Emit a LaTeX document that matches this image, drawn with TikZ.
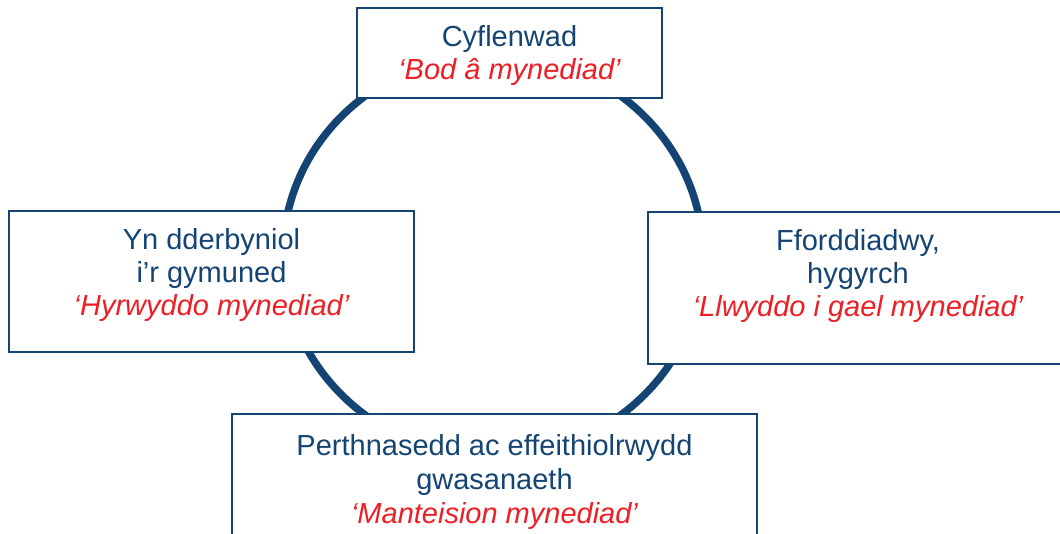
\documentclass[tikz,border=0pt]{standalone}
\usepackage{fontspec}
\setmainfont{Liberation Sans}
\definecolor{navy}{RGB}{20,68,115}
\definecolor{redtxt}{RGB}{237,30,36}
\tikzset{
  box/.style={draw=navy,line width=1.8pt,fill=white,rectangle,inner sep=0pt},
  bluetxt/.style={text=navy,anchor=base,inner sep=0pt,font=\fontsize{29}{33}\selectfont},
  redline/.style={text=redtxt,anchor=base,inner sep=0pt,font=\fontsize{29}{33}\selectfont\itshape},
  ring/.style={draw=navy,line width=7.5pt}
}
\begin{document}
\begin{tikzpicture}[x=1pt,y=-1pt]
\clip (0,0) rectangle (1060,533);
\fill[white] (0,0) rectangle (1060,533);
\draw[ring] (493,255.5) ellipse [x radius=210, y radius=201];
% boxes
\node[box,minimum width=305pt,minimum height=90pt] (top) at (509.5,53) {};
\node[box,minimum width=405pt,minimum height=141pt] (left) at (211.5,281.5) {};
\node[box,minimum width=420pt,minimum height=152pt] (right) at (858,288) {};
\node[box,minimum width=525pt,minimum height=146pt] (bottom) at (494.5,487) {};
% texts
\node[bluetxt] (t1) at (509.5,46) {Cyflenwad};
\node[redline] (t2) at (509.5,79) {‘Bod â mynediad’};
\node[bluetxt] (l1) at (211.5,249) {Yn dderbyniol};
\node[bluetxt] (l2) at (211.5,282) {i’r gymuned};
\node[redline] (l3) at (211.5,315) {‘Hyrwyddo mynediad’};
\node[bluetxt] (r1) at (858,250) {Fforddiadwy,};
\node[bluetxt] (r2) at (858,283) {hygyrch};
\node[redline] (r3) at (858,316.5) {‘Llwyddo i gael mynediad’};
\node[bluetxt] (b1) at (494.5,455) {Perthnasedd ac effeithiolrwydd};
\node[bluetxt] (b2) at (494.5,489) {gwasanaeth};
\node[redline] (b3) at (494.5,523) {‘Manteision mynediad’};
\end{tikzpicture}
\end{document}
